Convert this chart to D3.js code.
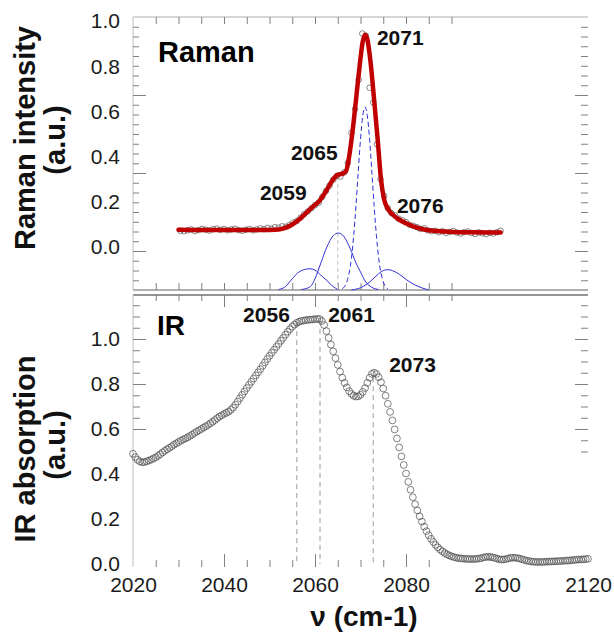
<!DOCTYPE html>
<html>
<head>
<meta charset="utf-8">
<script src="https://cdn.jsdelivr.net/npm/d3@7"></script>
<style>
  body { margin: 0; background: #fff; }
  text { font-family: Arial, "Liberation Sans", sans-serif; }
</style>
</head>
<body>
<script>
// Raman: measured points (nu grid start + step), fit and components
var ramanStart = 2030.4, ramanStep = 0.8;
var ramanInt = [0.072, 0.070, 0.074, 0.078, 0.071, 0.075, 0.080, 0.077, 0.073, 0.079,
    0.082, 0.076, 0.080, 0.074, 0.078, 0.081, 0.075, 0.072, 0.077, 0.080,
    0.074, 0.078, 0.083, 0.079, 0.085, 0.081, 0.088, 0.086, 0.092, 0.090,
    0.098, 0.108, 0.115, 0.130, 0.145, 0.158, 0.172, 0.185, 0.196, 0.222,
    0.248, 0.272, 0.298, 0.315, 0.312, 0.330, 0.372, 0.505, 0.610, 0.740,
    0.945, 0.935, 0.705, 0.640, 0.455, 0.300, 0.226, 0.172, 0.150, 0.140,
    0.125, 0.118, 0.110, 0.098, 0.094, 0.088, 0.080, 0.083, 0.074, 0.070,
    0.072, 0.066, 0.070, 0.063, 0.067, 0.071, 0.064, 0.060, 0.066, 0.069,
    0.062, 0.058, 0.065, 0.061, 0.057, 0.063, 0.060, 0.066, 0.072];

var fitNu  = [2030, 2035, 2040, 2045, 2050, 2052, 2053.5, 2055, 2056.5, 2058, 2059.5, 2061, 2062.5, 2064,
    2065, 2066, 2066.8, 2067.5, 2068.3, 2069, 2069.8, 2070.5, 2071, 2071.5, 2072.2, 2073, 2073.8,
    2074.5, 2075.2, 2076, 2077, 2078, 2080, 2082, 2084, 2086, 2090, 2095, 2100, 2100.8];
var fitVal = [0.077, 0.076, 0.076, 0.075, 0.076, 0.078, 0.085, 0.100, 0.122, 0.150, 0.178, 0.205, 0.250, 0.300,
    0.320, 0.325, 0.335, 0.400, 0.520, 0.650, 0.800, 0.910, 0.940, 0.920, 0.820, 0.650, 0.470,
    0.300, 0.210, 0.170, 0.145, 0.128, 0.105, 0.088, 0.078, 0.072, 0.067, 0.065, 0.064, 0.064];

var c2059Nu  = [2052, 2053.5, 2055, 2056.5, 2058, 2058.9, 2060, 2061.3, 2062.6, 2064, 2065];
var c2059Val = [-0.188, -0.175, -0.140, -0.110, -0.098, -0.096, -0.102, -0.125, -0.148, -0.175, -0.188];
var c2065Nu  = [2057, 2059, 2060, 2061.3, 2062.6, 2064, 2065.1, 2066.3, 2067.7, 2069, 2070, 2071, 2072.5, 2074];
var c2065Val = [-0.188, -0.175, -0.140, -0.070, 0.000, 0.050, 0.062, 0.048, -0.005, -0.070, -0.110, -0.150, -0.178, -0.188];
var c2071Nu  = [2066, 2066.5, 2067, 2067.5, 2068, 2068.5, 2069, 2069.5, 2070, 2070.5, 2071, 2071.5, 2072, 2072.5, 2073, 2073.5, 2074, 2074.5, 2075, 2075.5, 2076];
var c2071Val = [-0.184, -0.175, -0.154, -0.115, -0.050, 0.050, 0.181, 0.332, 0.477, 0.581, 0.620, 0.581, 0.477, 0.332, 0.181, 0.050, -0.050, -0.115, -0.154, -0.175, -0.184];
var c2076Nu  = [2068, 2070, 2072, 2074, 2075, 2076, 2077, 2078.5, 2080.2, 2082, 2083.7, 2085];
var c2076Val = [-0.190, -0.180, -0.155, -0.118, -0.104, -0.100, -0.104, -0.120, -0.146, -0.168, -0.182, -0.190];

// IR absorption, every 0.5 cm-1 from 2020 to 2120
var irStart = 2020, irStep = 0.5;
var irAbs = [0.490, 0.475, 0.463, 0.456, 0.452, 0.453, 0.456, 0.460, 0.464, 0.469,
    0.474, 0.481, 0.488, 0.496, 0.503, 0.510, 0.516, 0.523, 0.530, 0.536,
    0.542, 0.548, 0.553, 0.558, 0.563, 0.569, 0.575, 0.582, 0.588, 0.594,
    0.600, 0.606, 0.612, 0.618, 0.625, 0.632, 0.640, 0.648, 0.655, 0.661,
    0.667, 0.672, 0.677, 0.685, 0.695, 0.708, 0.722, 0.737, 0.752, 0.767,
    0.782, 0.796, 0.810, 0.824, 0.838, 0.852, 0.866, 0.881, 0.896, 0.911,
    0.925, 0.939, 0.952, 0.965, 0.978, 0.992, 1.005, 1.019, 1.032, 1.044,
    1.055, 1.064, 1.072, 1.077, 1.080, 1.082, 1.084, 1.085, 1.086, 1.087,
    1.088, 1.089, 1.089, 1.080, 1.062, 1.035, 1.005, 0.975, 0.945, 0.915,
    0.885, 0.855, 0.828, 0.805, 0.785, 0.768, 0.756, 0.748, 0.744, 0.745,
    0.752, 0.765, 0.782, 0.805, 0.828, 0.845, 0.850, 0.845, 0.830, 0.808,
    0.780, 0.748, 0.712, 0.676, 0.638, 0.598, 0.558, 0.518, 0.478, 0.440,
    0.402, 0.365, 0.330, 0.297, 0.266, 0.238, 0.212, 0.188, 0.166, 0.146,
    0.128, 0.112, 0.098, 0.085, 0.074, 0.064, 0.056, 0.049, 0.043, 0.038,
    0.034, 0.031, 0.028, 0.026, 0.025, 0.024, 0.023, 0.022, 0.022, 0.022,
    0.022, 0.023, 0.024, 0.026, 0.029, 0.031, 0.032, 0.031, 0.030, 0.027,
    0.024, 0.021, 0.020, 0.020, 0.022, 0.025, 0.027, 0.028, 0.028, 0.026,
    0.024, 0.021, 0.018, 0.015, 0.013, 0.011, 0.010, 0.009, 0.009, 0.009,
    0.009, 0.010, 0.010, 0.011, 0.011, 0.012, 0.012, 0.013, 0.013, 0.014,
    0.015, 0.015, 0.016, 0.017, 0.018, 0.019, 0.020, 0.020, 0.021, 0.022,
    0.023];

var ramanTickLabels = [0.0, 0.2, 0.4, 0.6, 0.8, 1.0];
var irTickLabels = [0.0, 0.2, 0.4, 0.6, 0.8, 1.0];
var nuTickLabels = [2020, 2040, 2060, 2080, 2100, 2120];

// peak labels, anchored at their lower-left corner in data units
var ramanPeaks = [{t: '2071', nu: 2073.6, v: 0.894}, {t: '2065', nu: 2054.7, v: 0.385},
    {t: '2059', nu: 2047.9, v: 0.208}, {t: '2076', nu: 2078.0, v: 0.150}];
var irPeaks = [{t: '2056', nu: 2044.2, v: 1.076}, {t: '2061', nu: 2062.9, v: 1.076}, {t: '2073', nu: 2076.3, v: 0.853}];
var irMarks = [{nu: 2056, v: 1.075}, {nu: 2061.1, v: 1.085}, {nu: 2072.8, v: 0.83}];

var width = 614, height = 633;

var svg = d3.select('body').append('svg')
    .attr('width', width).attr('height', height);

var x = d3.scaleLinear().domain([2020, 2120]).range([133, 588]);
var yR = d3.scaleLinear().domain([-0.19, 1.018]).range([290, 17]);
var yI = d3.scaleLinear().domain([0, 1.2]).range([564, 294]);
// odd frame tick scale of the top panel
var yRt = d3.scaleLinear().domain([-0.5, 3.0]).range([290, 17]);

var minor5 = d3.range(2025, 2091, 5);
var tickCol = '#808080';

function ticks(g, axis) {
    g.call(axis);
    g.select('.domain').remove();
    g.selectAll('line').attr('stroke', tickCol);
    return g;
}

// ---------- top panel frame ----------
var gTop = svg.append('g');
gTop.append('line').attr('x1', 133).attr('x2', 588).attr('y1', 17).attr('y2', 17)
    .attr('stroke', '#c8c8c8').attr('stroke-width', 1.5);
gTop.append('line').attr('x1', 133).attr('x2', 133).attr('y1', 17).attr('y2', 290)
    .attr('stroke', '#c8c8c8').attr('stroke-width', 1.2);
gTop.append('line').attr('x1', 133).attr('x2', 588).attr('y1', 290).attr('y2', 290)
    .attr('stroke', '#b0b0b0').attr('stroke-width', 1.8);

ticks(gTop.append('g').attr('transform', 'translate(0,17)'),
    d3.axisBottom(x).tickValues(minor5).tickSize(7).tickFormat(''));
ticks(gTop.append('g').attr('transform', 'translate(0,290)'),
    d3.axisTop(x).tickValues(minor5).tickSize(7).tickFormat(''));

var rtMinor = d3.range(-0.375, 2.9, 0.125).filter(d => Math.abs(d - Math.round(d)) > 0.01);
var rtMajor = [0, 1, 2];
ticks(gTop.append('g').attr('transform', 'translate(133,0)'),
    d3.axisRight(yRt).tickValues(rtMinor).tickSize(6).tickFormat(''));
ticks(gTop.append('g').attr('transform', 'translate(133,0)'),
    d3.axisRight(yRt).tickValues(rtMajor).tickSize(13).tickFormat(''));
ticks(gTop.append('g').attr('transform', 'translate(588,0)'),
    d3.axisLeft(yRt).tickValues(rtMinor).tickSize(7).tickFormat(''));
ticks(gTop.append('g').attr('transform', 'translate(588,0)'),
    d3.axisLeft(yRt).tickValues(rtMajor).tickSize(13).tickFormat(''));

var yRLab = gTop.append('g').attr('transform', 'translate(133,0)')
    .call(d3.axisLeft(yR).tickValues(ramanTickLabels).tickSize(0).tickPadding(13).tickFormat(d3.format('.1f')));
yRLab.select('.domain').remove();
yRLab.selectAll('text').attr('font-size', 21).attr('fill', '#1a1a1a')
    .style('font-family', 'Arial, "Liberation Sans", sans-serif');

// vertical marker at 2065
gTop.append('line').attr('x1', x(2065)).attr('x2', x(2065)).attr('y1', yR(0.31)).attr('y2', 290)
    .attr('stroke', '#c0c0c0').attr('stroke-dasharray', '4,3');

// raman data circles
var ramanPts = ramanInt.map((v, i) => ({nu: ramanStart + i * ramanStep, v: v}));
gTop.append('g').selectAll('circle').data(ramanPts).enter().append('circle')
    .attr('cx', d => x(d.nu)).attr('cy', d => yR(d.v)).attr('r', 2.8)
    .attr('fill', 'none').attr('stroke', '#555').attr('stroke-width', 0.7);

var lineR = d3.line().x(d => x(d[0])).y(d => yR(d[1])).curve(d3.curveMonotoneX);
function pairs(a, b) { return a.map((d, i) => [d, b[i]]); }

[[c2059Nu, c2059Val, null], [c2065Nu, c2065Val, null], [c2071Nu, c2071Val, '5,3'], [c2076Nu, c2076Val, null]]
    .forEach(c => {
        gTop.append('path').attr('d', lineR(pairs(c[0], c[1])))
            .attr('fill', 'none').attr('stroke', '#2f2fd8').attr('stroke-width', 1)
            .attr('stroke-dasharray', c[2]);
    });

gTop.append('path').attr('d', lineR(pairs(fitNu, fitVal)))
    .attr('fill', 'none').attr('stroke', '#c00000').attr('stroke-width', 4.5)
    .attr('stroke-linejoin', 'round').attr('stroke-linecap', 'round');

gTop.append('text').attr('x', 158).attr('y', 62).attr('font-size', 29).attr('font-weight', 'bold').text('Raman');
gTop.selectAll('.pk').data(ramanPeaks).enter().append('text')
    .attr('x', d => x(d.nu)).attr('y', d => yR(d.v))
    .attr('font-size', 21).attr('font-weight', 'bold').attr('fill', '#111').text(d => d.t);

// ---------- bottom panel frame ----------
var gBot = svg.append('g');
gBot.append('line').attr('x1', 133).attr('x2', 588).attr('y1', 295).attr('y2', 295)
    .attr('stroke', '#707070').attr('stroke-width', 1.6);
gBot.append('line').attr('x1', 133).attr('x2', 133).attr('y1', 295).attr('y2', 567)
    .attr('stroke', '#c8c8c8').attr('stroke-width', 1.2);

var major20 = [2040, 2060, 2080];
var minorTop = minor5.filter(d => major20.indexOf(d) < 0);
ticks(gBot.append('g').attr('transform', 'translate(0,295)'),
    d3.axisBottom(x).tickValues(minorTop).tickSize(6).tickFormat(''));
ticks(gBot.append('g').attr('transform', 'translate(0,295)'),
    d3.axisBottom(x).tickValues(major20).tickSize(12).tickFormat(''));
var minorBot = d3.range(2025, 2086, 5).filter(d => major20.indexOf(d) < 0);
ticks(gBot.append('g').attr('transform', 'translate(0,567)'),
    d3.axisTop(x).tickValues(minorBot).tickSize(7).tickFormat(''));
ticks(gBot.append('g').attr('transform', 'translate(0,567)'),
    d3.axisTop(x).tickValues(major20).tickSize(13).tickFormat(''));

var irMinorL = [0.65, 0.7, 0.75, 0.85, 0.9, 0.95, 1.05, 1.1, 1.15];
var irMinorR = [0.5, 0.55, 0.65, 0.7, 0.75, 0.85, 0.9, 0.95, 1.05, 1.1, 1.15];
var irMajor = [0.6, 0.8, 1.0];
ticks(gBot.append('g').attr('transform', 'translate(133,0)'),
    d3.axisRight(yI).tickValues(irMinorL).tickSize(7).tickFormat(''));
ticks(gBot.append('g').attr('transform', 'translate(133,0)'),
    d3.axisRight(yI).tickValues(irMajor).tickSize(13).tickFormat(''));
ticks(gBot.append('g').attr('transform', 'translate(588,0)'),
    d3.axisLeft(yI).tickValues(irMinorR).tickSize(7).tickFormat(''));
ticks(gBot.append('g').attr('transform', 'translate(588,0)'),
    d3.axisLeft(yI).tickValues(irMajor).tickSize(13).tickFormat(''));

var yILab = gBot.append('g').attr('transform', 'translate(133,0)')
    .call(d3.axisLeft(yI).tickValues(irTickLabels).tickSize(0).tickPadding(13).tickFormat(d3.format('.1f')));
yILab.select('.domain').remove();
yILab.selectAll('text').attr('font-size', 21).attr('fill', '#1a1a1a')
    .style('font-family', 'Arial, "Liberation Sans", sans-serif');

var xLab = gBot.append('g').attr('transform', 'translate(0,567)')
    .call(d3.axisBottom(x).tickValues(nuTickLabels).tickSize(0).tickPadding(10).tickFormat(d3.format('d')));
xLab.select('.domain').remove();
xLab.selectAll('text').attr('font-size', 21).attr('fill', '#1a1a1a')
    .style('font-family', 'Arial, "Liberation Sans", sans-serif');

// dashed markers
gBot.selectAll('.mk').data(irMarks).enter().append('line')
    .attr('x1', d => x(d.nu)).attr('x2', d => x(d.nu))
    .attr('y1', d => yI(d.v)).attr('y2', yI(0))
    .attr('stroke', '#9a9a9a').attr('stroke-width', 1).attr('stroke-dasharray', '5,4');

var irPts = irAbs.map((v, i) => ({nu: irStart + i * irStep, v: v}));
gBot.append('g').selectAll('circle').data(irPts).enter().append('circle')
    .attr('cx', d => x(d.nu)).attr('cy', d => yI(d.v)).attr('r', 3.4)
    .attr('fill', 'none').attr('stroke', '#4a4a4a').attr('stroke-width', 0.7);

gBot.append('text').attr('x', 157).attr('y', 335).attr('font-size', 28).attr('font-weight', 'bold').text('IR');
gBot.selectAll('.pk').data(irPeaks).enter().append('text')
    .attr('x', d => x(d.nu)).attr('y', d => yI(d.v))
    .attr('font-size', 21).attr('font-weight', 'bold').attr('fill', '#111').text(d => d.t);

// ---------- axis titles ----------
function ytitle(txt, bx, cy) {
    svg.append('text').attr('transform', `translate(${bx},${cy}) rotate(-90)`)
        .attr('text-anchor', 'middle').attr('font-size', 29).attr('font-weight', 'bold')
        .attr('fill', '#111').text(txt);
}
ytitle('Raman intensity', 35, 138);
ytitle('(a.u.)', 65, 140);
ytitle('IR absorption', 35, 449);
ytitle('(a.u.)', 65, 445);

svg.append('text').attr('x', 364).attr('y', 626).attr('text-anchor', 'middle')
    .attr('font-size', 28).attr('font-weight', 'bold').attr('fill', '#111').text('ν (cm-1)');
</script>
</body>
</html>
